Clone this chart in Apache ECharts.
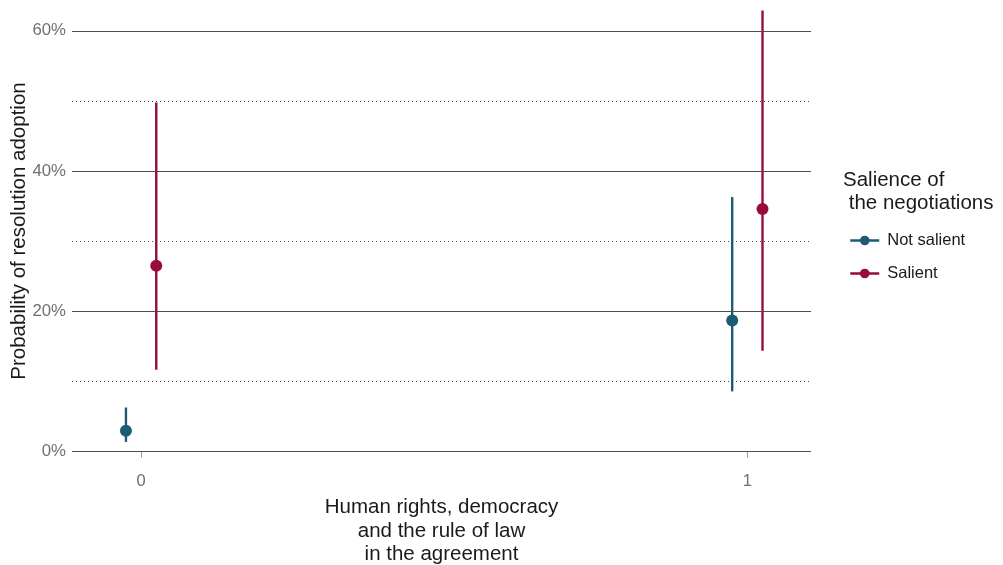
<!DOCTYPE html>
<html>
<head>
<meta charset="utf-8">
<script src="https://cdn.jsdelivr.net/npm/echarts@6/dist/echarts.min.js"></script>
<style>
  html, body { margin: 0; padding: 0; background: #ffffff; }
  #chart { width: 1003px; height: 565px; }
</style>
</head>
<body>
<div id="chart"></div>
<script>
// Predicted probability of resolution adoption (%) with confidence intervals
const categories = [0, 1];
const groups = ['Not salient', 'Salient'];
const notSalientEst = [3.0, 18.7];
const notSalientLow = [1.4, 8.6];
const notSalientHigh = [6.3, 36.3];
const salientEst = [26.5, 34.6];
const salientLow = [11.7, 14.4];
const salientHigh = [49.8, 62.9];
const majorTicks = [0, 20, 40, 60];
const minorTicks = [10, 30, 50];

const colors = ['#1b5b73', '#970b3f'];
const dodge = [-0.025, 0.025];
const FONT = '"Liberation Sans", Arial, sans-serif';

function points(est, gi) {
  return categories.map((c, i) => [c + dodge[gi], est[i]]);
}
function intervals(lo, hi, gi) {
  return categories.map((c, i) => [c + dodge[gi], lo[i], hi[i]]);
}

function errorBar(color) {
  return function (params, api) {
    const top = api.coord([api.value(0), api.value(2)]);
    const bottom = api.coord([api.value(0), api.value(1)]);
    return {
      type: 'line',
      shape: { x1: top[0], y1: top[1], x2: bottom[0], y2: bottom[1] },
      style: { stroke: color, lineWidth: 2.4 }
    };
  };
}

const chart = echarts.init(document.getElementById('chart'), null, { renderer: 'canvas' });

const option = {
  animation: false,
  backgroundColor: '#ffffff',
  textStyle: { fontFamily: FONT },
  title: {
    text: 'Salience of\n the negotiations',
    left: 838,
    top: 164,
    textStyle: { fontFamily: FONT, fontSize: 20.5, fontWeight: 'normal', color: '#1a1a1a', lineHeight: 23 }
  },
  legend: {
    data: groups,
    orient: 'vertical',
    left: 844,
    top: 227,
    itemWidth: 29,
    itemHeight: 12,
    itemGap: 16,
    lineStyle: { width: 2.5, opacity: 1 },
    textStyle: { fontFamily: FONT, fontSize: 16.5, color: '#1a1a1a', padding: [0, 0, 0, 3] }
  },
  grid: { left: 72, right: 192, top: 0, bottom: 103, containLabel: false, outerBoundsMode: 'none' },
  xAxis: {
    type: 'value',
    min: -0.114,
    max: 1.105,
    name: 'Human rights, democracy\nand the rule of law\nin the agreement',
    nameLocation: 'middle',
    nameGap: 34,
    nameMoveOverlap: false,
    nameTextStyle: { fontFamily: FONT, fontSize: 20.5, color: '#1a1a1a', lineHeight: 23.5, align: 'center' },
    axisLine: { show: false },
    splitLine: { show: false },
    axisTick: { show: true, length: 6, customValues: categories, lineStyle: { color: '#9a9a9a', width: 1 } },
    axisLabel: { customValues: categories, margin: 11, fontSize: 16.5, color: '#707070', fontFamily: FONT }
  },
  yAxis: {
    type: 'value',
    min: -1.47,
    max: 64.4,
    name: 'Probability of resolution adoption',
    nameLocation: 'middle',
    nameGap: 42,
    nameMoveOverlap: false,
    nameTextStyle: { fontFamily: FONT, fontSize: 20.5, color: '#1a1a1a' },
    axisLine: { show: false },
    axisTick: { show: false },
    splitLine: { show: false },
    axisLabel: { customValues: majorTicks, margin: 6, fontSize: 16.8, color: '#707070', fontFamily: FONT, formatter: '{value}%' }
  },
  series: [
    {
      // horizontal reference lines
      name: 'grid',
      type: 'line',
      data: [],
      silent: true,
      markLine: {
        silent: true,
        symbol: 'none',
        label: { show: false },
        animation: false,
        data: majorTicks.map(v => ({ yAxis: v, lineStyle: { type: 'solid', color: '#4d4d4d', width: 1.2 } }))
          .concat(minorTicks.map(v => ({ yAxis: v, lineStyle: { type: [1, 3], color: '#4d4d4d', width: 1.2 } })))
      }
    },
    {
      name: groups[0] + ' CI',
      type: 'custom',
      renderItem: errorBar(colors[0]),
      data: intervals(notSalientLow, notSalientHigh, 0),
      encode: { x: 0, y: [1, 2] },
      z: 3
    },
    {
      name: groups[1] + ' CI',
      type: 'custom',
      renderItem: errorBar(colors[1]),
      data: intervals(salientLow, salientHigh, 1),
      encode: { x: 0, y: [1, 2] },
      z: 3
    },
    {
      name: groups[0],
      type: 'line',
      data: [points(notSalientEst, 0)[0], [0.5, '-'], points(notSalientEst, 0)[1]],
      symbol: 'circle',
      symbolSize: 12,
      showSymbol: true,
      connectNulls: false,
      itemStyle: { color: colors[0] },
      lineStyle: { width: 0, opacity: 0, color: colors[0] },
      z: 4
    },
    {
      name: groups[1],
      type: 'line',
      data: [points(salientEst, 1)[0], [0.5, '-'], points(salientEst, 1)[1]],
      symbol: 'circle',
      symbolSize: 12,
      showSymbol: true,
      connectNulls: false,
      itemStyle: { color: colors[1] },
      lineStyle: { width: 0, opacity: 0, color: colors[1] },
      z: 4
    }
  ]
};

chart.setOption(option);
</script>
</body>
</html>
